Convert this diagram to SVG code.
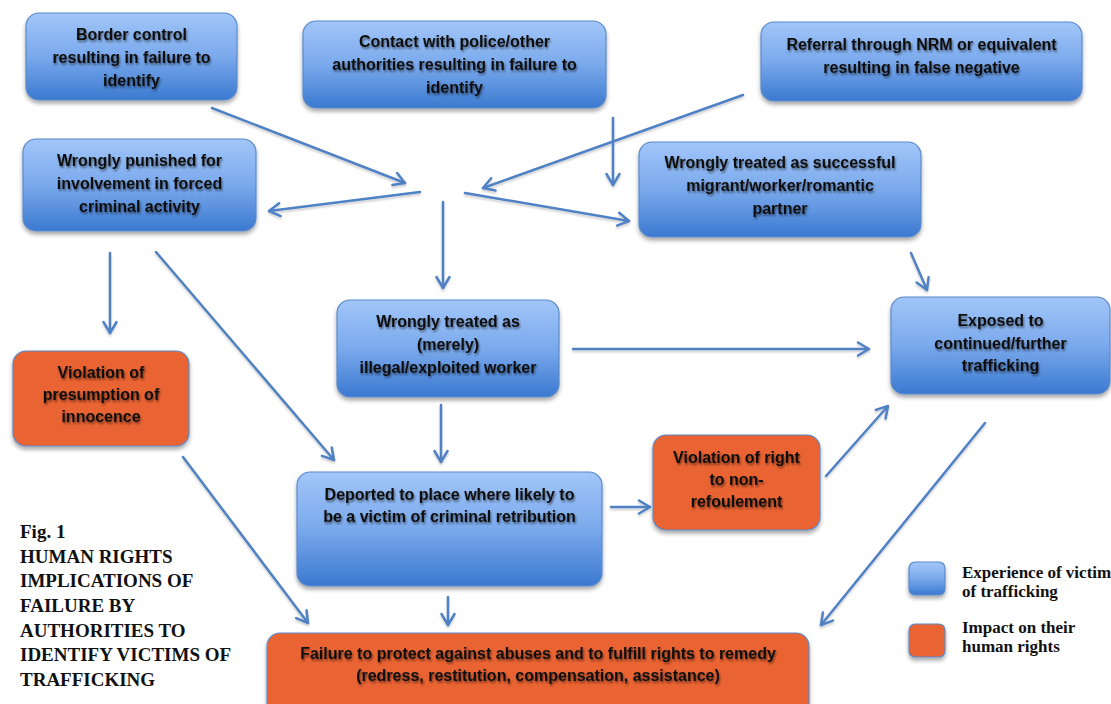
<svg xmlns="http://www.w3.org/2000/svg" width="1111" height="704" viewBox="0 0 1111 704">
<defs>
<linearGradient id="blueGrad" x1="0" y1="0" x2="0" y2="1">
<stop offset="0" stop-color="#a2c6f9"/>
<stop offset="0.5" stop-color="#7aa9ec"/>
<stop offset="1" stop-color="#3b79d0"/>
</linearGradient>
<filter id="boxShadow" x="-10%" y="-10%" width="120%" height="130%">
<feGaussianBlur in="SourceAlpha" stdDeviation="2"/>
<feOffset dx="0" dy="3" result="b"/>
<feComponentTransfer><feFuncA type="linear" slope="0.35"/></feComponentTransfer>
<feMerge><feMergeNode/><feMergeNode in="SourceGraphic"/></feMerge>
</filter>
<filter id="textShadow" x="-5%" y="-20%" width="110%" height="150%">
<feGaussianBlur in="SourceAlpha" stdDeviation="1.2"/>
<feOffset dx="0.5" dy="1.5"/>
<feComponentTransfer><feFuncA type="linear" slope="0.5"/></feComponentTransfer>
<feMerge><feMergeNode/><feMergeNode in="SourceGraphic"/></feMerge>
</filter>
<filter id="lineShadow" x="-10%" y="-10%" width="120%" height="120%">
<feGaussianBlur in="SourceAlpha" stdDeviation="1"/>
<feOffset dx="0" dy="2"/>
<feComponentTransfer><feFuncA type="linear" slope="0.2"/></feComponentTransfer>
<feMerge><feMergeNode/><feMergeNode in="SourceGraphic"/></feMerge>
</filter>
<marker id="arrow" viewBox="0 0 16 16" refX="13" refY="8" markerWidth="16" markerHeight="16" markerUnits="userSpaceOnUse" orient="auto">
<path d="M2,1.5 L13,8 L2,14.5" fill="none" stroke="#4f81c4" stroke-width="2.5" stroke-linecap="round" stroke-linejoin="round"/>
</marker>
</defs>
<style>
.blue{fill:url(#blueGrad);stroke:#5a8acb;stroke-width:1.2}
.orange{fill:#ea6330;stroke:#5a8acb;stroke-width:1.2}
.lbl{font-family:"Liberation Sans",Arial,sans-serif;font-weight:bold;font-size:16px;fill:#111;text-anchor:middle}
.title{font-family:"Liberation Serif","Times New Roman",serif;font-weight:bold;font-size:19px;fill:#111}
.leg{font-family:"Liberation Serif","Times New Roman",serif;font-weight:bold;font-size:17px;fill:#111}
.conn line{stroke:#4f81c4;stroke-width:2.5;stroke-linecap:round;fill:none}
</style>
<rect width="1111" height="704" fill="#ffffff"/>

<g id="connectors" class="conn" filter="url(#lineShadow)">
<line x1="212" y1="108" x2="405" y2="183" marker-end="url(#arrow)"/>
<line x1="743" y1="95" x2="483" y2="188" marker-end="url(#arrow)"/>
<line x1="613" y1="118" x2="613" y2="185" marker-end="url(#arrow)"/>
<line x1="420" y1="192" x2="269" y2="211" marker-end="url(#arrow)"/>
<line x1="465" y1="193" x2="629" y2="221" marker-end="url(#arrow)"/>
<line x1="443" y1="202" x2="443" y2="288" marker-end="url(#arrow)"/>
<line x1="911" y1="253" x2="927" y2="290" marker-end="url(#arrow)"/>
<line x1="573" y1="349" x2="869" y2="349" marker-end="url(#arrow)"/>
<line x1="110" y1="253" x2="110" y2="333" marker-end="url(#arrow)"/>
<line x1="156" y1="252" x2="334" y2="460" marker-end="url(#arrow)"/>
<line x1="441" y1="405" x2="441" y2="462" marker-end="url(#arrow)"/>
<line x1="611" y1="507" x2="650" y2="507" marker-end="url(#arrow)"/>
<line x1="826" y1="476" x2="888" y2="406" marker-end="url(#arrow)"/>
<line x1="183" y1="457" x2="308" y2="623" marker-end="url(#arrow)"/>
<line x1="448" y1="597" x2="448" y2="625" marker-end="url(#arrow)"/>
<line x1="985" y1="423" x2="821" y2="625" marker-end="url(#arrow)"/>
</g>

<g id="border-control">
<rect class="blue" x="26" y="13" width="211" height="87" rx="13" filter="url(#boxShadow)"/>
<g filter="url(#textShadow)"><text class="lbl" x="131.5" y="40">Border control</text>
<text class="lbl" x="131.5" y="63">resulting in failure to</text>
<text class="lbl" x="131.5" y="86">identify</text></g>
</g>

<g id="contact-police">
<rect class="blue" x="303" y="21" width="303" height="87" rx="13" filter="url(#boxShadow)"/>
<g filter="url(#textShadow)"><text class="lbl" x="454.5" y="47">Contact with police/other</text>
<text class="lbl" x="454.5" y="70">authorities resulting in failure to</text>
<text class="lbl" x="454.5" y="93">identify</text></g>
</g>

<g id="referral-nrm">
<rect class="blue" x="761" y="22" width="321" height="79" rx="13" filter="url(#boxShadow)"/>
<g filter="url(#textShadow)"><text class="lbl" x="921.5" y="50">Referral through NRM or equivalent</text>
<text class="lbl" x="921.5" y="73">resulting in false negative</text></g>
</g>

<g id="wrongly-punished">
<rect class="blue" x="23" y="139" width="233" height="92" rx="13" filter="url(#boxShadow)"/>
<g filter="url(#textShadow)"><text class="lbl" x="139.5" y="166">Wrongly punished for</text>
<text class="lbl" x="139.5" y="189">involvement in forced</text>
<text class="lbl" x="139.5" y="212">criminal activity</text></g>
</g>

<g id="wrongly-successful">
<rect class="blue" x="639" y="142" width="282" height="95" rx="13" filter="url(#boxShadow)"/>
<g filter="url(#textShadow)"><text class="lbl" x="780" y="168">Wrongly treated as successful</text>
<text class="lbl" x="780" y="191">migrant/worker/romantic</text>
<text class="lbl" x="780" y="214">partner</text></g>
</g>

<g id="wrongly-illegal">
<rect class="blue" x="337" y="300" width="222" height="97" rx="13" filter="url(#boxShadow)"/>
<g filter="url(#textShadow)"><text class="lbl" x="448" y="327">Wrongly treated as</text>
<text class="lbl" x="448" y="350">(merely)</text>
<text class="lbl" x="448" y="373">illegal/exploited worker</text></g>
</g>

<g id="exposed">
<rect class="blue" x="891" y="297" width="219" height="97" rx="13" filter="url(#boxShadow)"/>
<g filter="url(#textShadow)"><text class="lbl" x="1000.5" y="326">Exposed to</text>
<text class="lbl" x="1000.5" y="349">continued/further</text>
<text class="lbl" x="1000.5" y="371">trafficking</text></g>
</g>

<g id="presumption">
<rect class="orange" x="13" y="351" width="176" height="95" rx="13" filter="url(#boxShadow)"/>
<g filter="url(#textShadow)"><text class="lbl" x="101" y="378">Violation of</text>
<text class="lbl" x="101" y="400">presumption of</text>
<text class="lbl" x="101" y="422">innocence</text></g>
</g>

<g id="deported">
<rect class="blue" x="297" y="472" width="305" height="114" rx="13" filter="url(#boxShadow)"/>
<g filter="url(#textShadow)"><text class="lbl" x="449.5" y="500">Deported to place where likely to</text>
<text class="lbl" x="449.5" y="522">be a victim of criminal retribution</text></g>
</g>

<g id="non-refoulement">
<rect class="orange" x="653" y="435" width="167" height="95" rx="13" filter="url(#boxShadow)"/>
<g filter="url(#textShadow)"><text class="lbl" x="736.5" y="463">Violation of right</text>
<text class="lbl" x="736.5" y="485">to non-</text>
<text class="lbl" x="736.5" y="507">refoulement</text></g>
</g>

<g id="failure-protect">
<rect class="orange" x="267" y="633" width="542" height="85" rx="13" filter="url(#boxShadow)"/>
<g filter="url(#textShadow)"><text class="lbl" x="538" y="659">Failure to protect against abuses and to fulfill rights to remedy</text>
<text class="lbl" x="538" y="681">(redress, restitution, compensation, assistance)</text></g>
</g>

<g id="title">
<text class="title" x="20" y="538">Fig. 1</text>
<text class="title" x="20" y="562.5">HUMAN RIGHTS</text>
<text class="title" x="20" y="587">IMPLICATIONS OF</text>
<text class="title" x="20" y="612">FAILURE BY</text>
<text class="title" x="20" y="636.5">AUTHORITIES TO</text>
<text class="title" x="20" y="661">IDENTIFY VICTIMS OF</text>
<text class="title" x="20" y="686">TRAFFICKING</text>
</g>

<g id="legend">
<rect class="blue" x="909" y="562" width="36" height="33" rx="6" filter="url(#boxShadow)"/>
<rect class="orange" x="909" y="624" width="36" height="33" rx="6" filter="url(#boxShadow)"/>
<text class="leg" x="962" y="578">Experience of victim</text>
<text class="leg" x="962" y="597">of trafficking</text>
<text class="leg" x="962" y="633">Impact on their</text>
<text class="leg" x="962" y="652">human rights</text>
</g>
</svg>
